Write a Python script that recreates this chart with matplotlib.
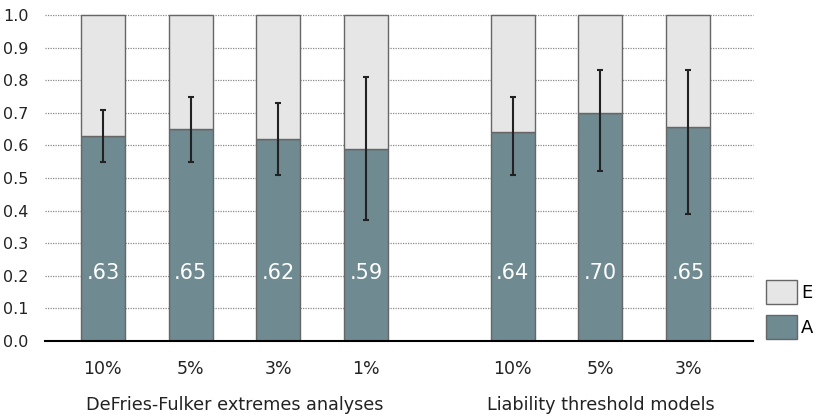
import matplotlib.pyplot as plt
import numpy as np

# Heritability estimates (A) with confidence intervals, E = 1 - A
groups = ["DeFries-Fulker extremes analyses", "Liability threshold models"]
cutoffs_df = ["10%", "5%", "3%", "1%"]
cutoffs_lt = ["10%", "5%", "3%"]
a_values = [0.63, 0.65, 0.62, 0.59, 0.64, 0.70, 0.655]
a_labels = [".63", ".65", ".62", ".59", ".64", ".70", ".65"]
ci_low = [0.55, 0.55, 0.51, 0.37, 0.51, 0.52, 0.39]
ci_high = [0.71, 0.75, 0.73, 0.81, 0.75, 0.83, 0.83]

a_color = "#6f8a91"
e_color = "#e6e6e6"
edge = "#666666"

plt.rcParams["font.family"] = "DejaVu Sans"

# x positions: two groups with a gap between them
gap = 1.67
x = np.concatenate([np.arange(len(cutoffs_df)),
                    np.arange(len(cutoffs_lt)) + len(cutoffs_df) - 1 + gap])
a = np.array(a_values)
e = 1 - a

fig = plt.figure(figsize=(8.16, 4.16), dpi=100)
ax = fig.add_axes([45 / 816, 1 - 341 / 416, 708 / 816, 326 / 416])

for yv in np.arange(0.1, 1.01, 0.1):
    ax.axhline(yv, color="#8a8a8a", linestyle=(0, (1, 1)), linewidth=0.9,
               zorder=0, clip_on=False)

ax.bar(x, a, width=0.5, color=a_color, edgecolor=edge, linewidth=1,
       label="A", zorder=2)
ax.bar(x, e, width=0.5, bottom=a, color=e_color, edgecolor=edge,
       linewidth=1, label="E", zorder=2, clip_on=False)

yerr = np.array([a - np.array(ci_low), np.array(ci_high) - a])
ax.errorbar(x, a, yerr=yerr, fmt="none", ecolor="#222222", elinewidth=1.5,
            capsize=2.5, capthick=1.5, zorder=3)

for xi, lab in zip(x, a_labels):
    ax.text(xi, 0.21, lab, color="white", fontsize=15, ha="center",
            va="center", zorder=4)

ax.set_ylim(0, 1.0)
ax.set_xlim(-0.66, 7.41)
ax.set_yticks(np.arange(0, 1.01, 0.1))
ax.set_yticklabels([f"{v:.1f}" for v in np.arange(0, 1.01, 0.1)],
                   fontsize=11.5, color="#222222")
ax.set_xticks(x)
ax.set_xticklabels(cutoffs_df + cutoffs_lt, fontsize=12.5, color="#222222")
ax.tick_params(axis="both", length=0)
ax.tick_params(axis="x", pad=14)
ax.tick_params(axis="y", pad=12)

for side in ["top", "right", "left"]:
    ax.spines[side].set_visible(False)
ax.spines["bottom"].set_linewidth(1.5)
ax.spines["bottom"].set_color("black")

# group labels under the category labels
centers = [x[:len(cutoffs_df)].mean(), x[len(cutoffs_df):].mean()]
for cx, g in zip(centers, groups):
    ax.text(cx, -0.195, g, transform=ax.get_xaxis_transform(), ha="center",
            va="center", fontsize=12.7, color="#222222")

handles, labels = ax.get_legend_handles_labels()
fig.legend(handles[::-1], labels[::-1], loc="lower left",
           bbox_to_anchor=(766 / 816, (416 - 339) / 416), frameon=False,
           fontsize=13, handlelength=1.7, handleheight=1.7,
           labelspacing=0.57, borderpad=0, borderaxespad=0, handletextpad=0.25)

fig.savefig("out.png", dpi=100)
